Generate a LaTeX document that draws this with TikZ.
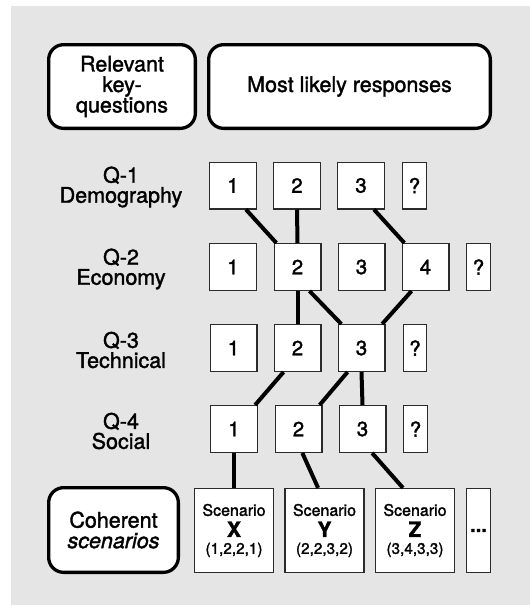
\documentclass[tikz,border=0pt]{standalone}
\usepackage{fontspec}
\setmainfont{TeX Gyre Heros}[FakeBold=1.6]
\usetikzlibrary{calc}
\definecolor{bg}{HTML}{E5E5E5}
\definecolor{edge}{HTML}{2B2B2B}
\tikzset{
  resp/.style={draw=edge, line width=1.2pt, fill=white, minimum width=46.8pt, minimum height=46.8pt, inner sep=0pt, font=\fontsize{20.5}{20}\selectfont},
  qbox/.style={resp, minimum width=23.5pt},
  scen/.style={draw=edge, line width=1.2pt, fill=white, minimum width=79pt, minimum height=84pt, inner sep=0pt, align=center, font=\fontsize{16}{21}\selectfont},
  head/.style={draw=black, line width=3.3pt, fill=white, rounded corners=15pt, inner sep=0pt, align=center, font=\fontsize{21.5}{20.5}\selectfont},
  qlabel/.style={align=center, inner sep=0pt, font=\fontsize{21.5}{20}\selectfont},
  conn/.style={draw=black, line width=4pt}
}
\begin{document}
\begin{tikzpicture}[x=1pt,y=-1pt]
\useasboundingbox (0,0) rectangle (530,605);
\fill[bg] (11,6) rectangle (530,605);
% headers
\node[head, minimum width=146.7pt, minimum height=83.7pt] (hq) at (122,86.5) {Relevant\\key-\\questions};
\node[head, minimum width=281.7pt, minimum height=83.7pt] (hr) at (349.5,86.5) {Most likely responses};
\node[head, minimum width=129.7pt, minimum height=84.7pt] (hs) at (113.5,530) {Coherent\\\itshape scenarios};
% row labels
\node[qlabel] (l1) at (121,187) {Q-1\\Demography};
\node[qlabel] (l2) at (121,269) {Q-2\\Economy};
\node[qlabel] (l3) at (121,350) {Q-3\\Technical};
\node[qlabel] (l4) at (121,431) {Q-4\\Social};
% row 1
\node[resp] (r1c1) at (233,185.5) {1};
\node[resp] (r1c2) at (297,185.5) {2};
\node[resp] (r1c3) at (361,185.5) {3};
\node[qbox] (r1q) at (414.5,185.5) {?};
% row 2
\node[resp] (r2c1) at (233,267) {1};
\node[resp] (r2c2) at (297.5,267) {2};
\node[resp] (r2c3) at (361.5,267) {3};
\node[resp] (r2c4) at (425.5,267) {4};
\node[qbox] (r2q) at (478.5,267) {?};
% row 3
\node[resp] (r3c1) at (233.5,348) {1};
\node[resp] (r3c2) at (297.5,348) {2};
\node[resp] (r3c3) at (361.5,348) {3};
\node[qbox] (r3q) at (415,348) {?};
% row 4
\node[resp] (r4c1) at (234,429) {1};
\node[resp] (r4c2) at (298.5,429) {2};
\node[resp] (r4c3) at (362.5,429) {3};
\node[qbox] (r4q) at (415.5,429) {?};
% scenarios
\node[scen] (sX) at (234,530.5) {Scenario\\{\fontsize{21}{21}\selectfont\bfseries X}\\[-4pt]{\fontsize{15.3}{15}\selectfont (1,2,2,1)}};
\node[scen] (sY) at (324.5,530.5) {Scenario\\{\fontsize{21}{21}\selectfont\bfseries Y}\\[-4pt]{\fontsize{15.3}{15}\selectfont (2,2,3,2)}};
\node[scen] (sZ) at (415,530.5) {Scenario\\{\fontsize{21}{21}\selectfont\bfseries Z}\\[-4pt]{\fontsize{15.3}{15}\selectfont (3,4,3,3)}};
\node[scen, minimum width=24pt, font=\fontsize{20}{20}\selectfont\bfseries] (sM) at (478.5,530.5) {...};
% connectors
\draw[conn] ($(r1c1.south west)!0.77!(r1c1.south east)$) -- ($(r2c2.north west)!0.06!(r2c2.north east)$);
\draw[conn] (r1c2.south) -- (r2c2.north);
\draw[conn] ($(r1c3.south west)!0.77!(r1c3.south east)$) -- ($(r2c4.north west)!0.06!(r2c4.north east)$);
\draw[conn] (r2c2.south) -- (r3c2.north);
\draw[conn] ($(r2c2.south west)!0.75!(r2c2.south east)$) -- ($(r3c3.north west)!0.08!(r3c3.north east)$);
\draw[conn] ($(r2c4.south west)!0.21!(r2c4.south east)$) -- ($(r3c3.north west)!0.93!(r3c3.north east)$);
\draw[conn] ($(r3c2.south west)!0.21!(r3c2.south east)$) -- ($(r4c1.north west)!0.94!(r4c1.north east)$);
\draw[conn] ($(r3c3.south west)!0.21!(r3c3.south east)$) -- ($(r4c2.north west)!0.94!(r4c2.north east)$);
\draw[conn] (r3c3.south) -- (r4c3.north);
\draw[conn] (r4c1.south) -- (sX.north);
\draw[conn] ($(r4c2.south west)!0.58!(r4c2.south east)$) -- ($(sY.north west)!0.42!(sY.north east)$);
\draw[conn] ($(r4c3.south west)!0.7!(r4c3.south east)$) -- ($(sZ.north west)!0.35!(sZ.north east)$);
\end{tikzpicture}
\end{document}
